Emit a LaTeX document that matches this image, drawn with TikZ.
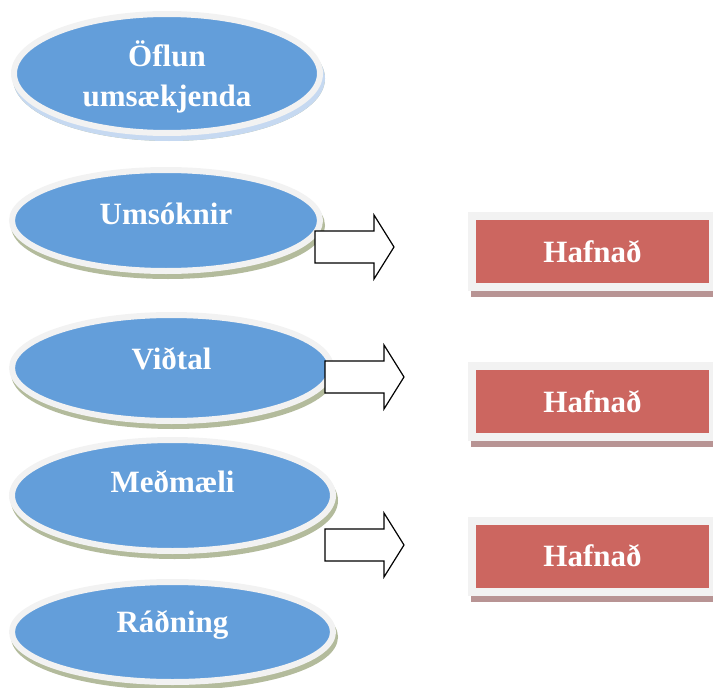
\documentclass[tikz,border=0pt]{standalone}
\usepackage{fontspec}
\setmainfont{Liberation Serif}
\usetikzlibrary{shapes.geometric,shadows}
\definecolor{stageblue}{HTML}{639EDA}
\definecolor{rimgrey}{HTML}{F2F2F2}
\definecolor{olivesh}{HTML}{B3BB9C}
\definecolor{skysh}{HTML}{C6D9F1}
\definecolor{rejectred}{HTML}{CC6660}
\definecolor{rosesh}{HTML}{B89494}
\tikzset{
 stage/.style={ellipse,fill=stageblue,draw=rimgrey,line width=6pt,inner sep=0,text=white,font=\fontsize{31}{40}\selectfont\bfseries,general shadow={fill=olivesh,draw=olivesh,line width=6pt,shadow xshift=2pt,shadow yshift=-5pt}},
 firststage/.style={stage,align=center,general shadow={fill=skysh,draw=skysh,line width=6pt,shadow xshift=2pt,shadow yshift=-5pt}},
 reject/.style={rectangle,fill=rejectred,draw=rimgrey,line width=8pt,minimum width=241pt,minimum height=71pt,inner sep=0,text=white,font=\fontsize{31}{40}\selectfont\bfseries,general shadow={fill=rosesh,draw=rosesh,line width=8pt,shadow xshift=3pt,shadow yshift=-6pt}},
 blockarrow/.style={fill=white,draw=black,line width=1.2pt,line join=miter}
}
\begin{document}
\begin{tikzpicture}[x=1pt,y=-1pt]
\useasboundingbox (0,0) rectangle (713,688);
% stages
\node[firststage,minimum width=306pt,minimum height=119pt,text depth=0pt] (ofl) at (167,73.5) {Öflun\\umsækjenda};
\node[stage,minimum width=308pt,minimum height=101pt,text depth=14pt] (ums) at (166,220.5) {Umsóknir};
\node[stage,minimum width=319pt,minimum height=106pt,text depth=19pt] (vid) at (171.5,368) {Viðtal};
\node[stage,minimum width=321pt,minimum height=111pt,text depth=29pt] (med) at (172.5,495.5) {Meðmæli};
\node[stage,minimum width=321pt,minimum height=100pt,text depth=21pt] (rad) at (172.5,632) {Ráðning};
% rejections
\node[reject] (haf1) at (592.5,251.5) {Hafnað};
\node[reject] (haf2) at (592.5,401.5) {Hafnað};
\node[reject] (haf3) at (592.5,556) {Hafnað};
% block arrows
\foreach \ax/\ay in {315/247,325/377,325/545}
 \draw[blockarrow] (\ax,\ay-16) -- (\ax+59,\ay-16) -- (\ax+59,\ay-32) -- (\ax+79,\ay)
  -- (\ax+59,\ay+32) -- (\ax+59,\ay+16) -- (\ax,\ay+16) -- cycle;
\end{tikzpicture}
\end{document}
